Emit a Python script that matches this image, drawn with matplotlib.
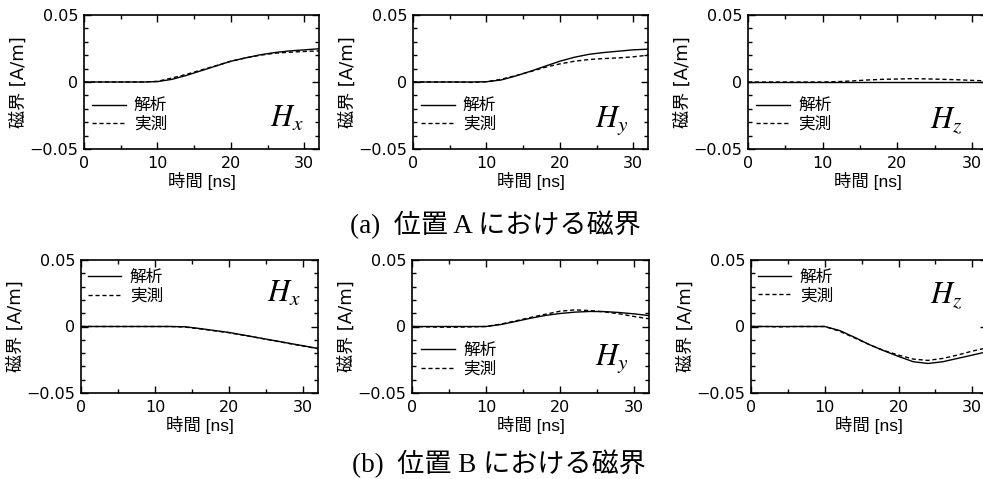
import matplotlib
matplotlib.use("Agg")
import matplotlib.pyplot as plt
from matplotlib.ticker import MultipleLocator, FuncFormatter

plt.rcParams['mathtext.fontset'] = 'stix'
plt.rcParams['font.family'] = ['DejaVu Sans', 'Noto Sans CJK JP']

t = [0, 2, 4, 6, 8, 10, 12, 14, 16, 18, 20, 22, 24, 26, 28, 30, 32]

a_hx_calc = [0, 0, 0, 0, 0, 0.0003, 0.002, 0.005, 0.0085, 0.012, 0.0155, 0.018, 0.0203, 0.022, 0.0232, 0.024, 0.0248]
a_hx_meas = [0, 0, 0, 0, 0, 0.0005, 0.003, 0.0058, 0.009, 0.0122, 0.0155, 0.018, 0.020, 0.0215, 0.0222, 0.0228, 0.0232]
a_hy_calc = [0, 0, 0, 0, 0, 0.0002, 0.0015, 0.0045, 0.008, 0.0118, 0.0155, 0.0185, 0.0207, 0.022, 0.023, 0.024, 0.0245]
a_hy_meas = [0, 0, 0, 0, -0.0003, 0.0002, 0.002, 0.0048, 0.0078, 0.011, 0.0135, 0.0155, 0.0168, 0.0175, 0.018, 0.0188, 0.020]
a_hz_calc = [0, 0, 0, 0, 0, 0, 0, 0, 0, 0, 0, 0, 0, 0, 0, 0, 0]
a_hz_meas = [0, 0, 0, 0, 0, 0, 0.0003, 0.0008, 0.0015, 0.002, 0.0022, 0.0025, 0.0023, 0.002, 0.0017, 0.0012, 0.0008]

b_hx_calc = [0, 0, 0, 0, 0, 0, 0, -0.0002, -0.0015, -0.003, -0.0045, -0.0065, -0.0085, -0.0105, -0.0125, -0.0145, -0.0165]
b_hx_meas = [0, 0, 0, 0, 0, 0, 0, -0.0004, -0.0017, -0.0032, -0.0047, -0.0066, -0.0086, -0.0106, -0.0127, -0.0147, -0.0167]
b_hy_calc = [0, 0, 0, 0, 0, 0, 0.0015, 0.0038, 0.0062, 0.0083, 0.0098, 0.0108, 0.0113, 0.0112, 0.0105, 0.0095, 0.0082]
b_hy_meas = [0, -0.0003, -0.0005, -0.0005, -0.0003, 0, 0.0018, 0.0042, 0.0068, 0.0092, 0.0115, 0.0125, 0.012, 0.011, 0.0095, 0.0075, 0.0058]
b_hz_calc = [0, 0, 0, 0, 0, 0, -0.003, -0.008, -0.0135, -0.0182, -0.0225, -0.0265, -0.0278, -0.0265, -0.024, -0.0215, -0.019]
b_hz_meas = [0, 0, -0.0003, 0, 0, 0, -0.0035, -0.0085, -0.0135, -0.018, -0.0215, -0.0245, -0.0255, -0.024, -0.0215, -0.0185, -0.016]

legend_labels = ['解析', '実測']
comp_labels = ['$H_x$', '$H_y$', '$H_z$']
xlabel = '時間 [ns]'
ylabel = '磁界 [A/m]'
captions = ['(a)  位置 A における磁界', '(b)  位置 B における磁界']

W, H = 983, 479
fig = plt.figure(figsize=(W / 100, H / 100), dpi=100)

def fx(px):
    return px / W

def fy(py):
    return 1 - py / H

# panel boxes in pixels: left, top, right, bottom
boxes = [
    (84, 15, 319, 149), (413, 15, 648, 149), (748, 15, 987, 149),
    (81, 260, 318, 393), (412, 260, 649, 393), (751, 260, 987, 393),
]
series = [
    (a_hx_calc, a_hx_meas), (a_hy_calc, a_hy_meas), (a_hz_calc, a_hz_meas),
    (b_hx_calc, b_hx_meas), (b_hy_calc, b_hy_meas), (b_hz_calc, b_hz_meas),
]
leg_pos = [(0.035, 0.385), (0.035, 0.385), (0.035, 0.385),
           (0.03, 0.93), (0.04, 0.385), (0.03, 0.935)]
h_pos = [(0.79, 0.164), (0.775, 0.164), (0.762, 0.157),
         (0.785, 0.684), (0.772, 0.21), (0.757, 0.677)]

def yfmt(v, pos):
    if abs(v) < 1e-9:
        return '0'
    s = f'{v:.2f}'
    return s.replace('-', '\u2212')

for i, (box, (calc, meas)) in enumerate(zip(boxes, series)):
    l, tp, r, b = box
    ax = fig.add_axes([fx(l), fy(b), fx(r - l), fy(tp) - fy(b)])
    ax.plot(t, calc, color='black', lw=1.0, ls='-', label=legend_labels[0])
    ax.plot(t, meas, color='black', lw=1.0, ls=(0, (3, 2)), label=legend_labels[1])
    ax.set_xlim(0, 32)
    ax.set_ylim(-0.05, 0.05)
    ax.xaxis.set_major_locator(MultipleLocator(10))
    ax.xaxis.set_minor_locator(MultipleLocator(5))
    ax.yaxis.set_major_locator(MultipleLocator(0.05))
    ax.yaxis.set_minor_locator(MultipleLocator(0.01))
    ax.yaxis.set_major_formatter(FuncFormatter(yfmt))
    ax.tick_params(which='both', direction='in', top=True, right=True,
                   labelsize=11.5, width=1.0)
    ax.tick_params(axis='y', pad=4)
    ax.tick_params(axis='x', pad=5)
    ax.tick_params(which='major', length=5)
    ax.tick_params(which='minor', length=3)
    for lab in ax.get_xticklabels() + ax.get_yticklabels():
        lab.set_family(['DejaVu Sans'])
    for sp in ax.spines.values():
        sp.set_linewidth(1.2)
    ax.set_xlabel(xlabel, fontsize=12.5, labelpad=1,
                  family=['Liberation Sans', 'Noto Sans CJK JP'])
    ax.set_ylabel(ylabel, fontsize=13, labelpad=1,
                  family=['DejaVu Sans', 'Noto Sans CJK JP'])
    ax.legend(loc='upper left', bbox_to_anchor=leg_pos[i], frameon=False,
              handlelength=2.0, handletextpad=0.5, labelspacing=0.1,
              borderpad=0, borderaxespad=0,
              prop={'size': 12, 'family': ['Noto Sans CJK JP']})
    ax.text(h_pos[i][0], h_pos[i][1], comp_labels[i % 3], transform=ax.transAxes,
            ha='left', va='baseline', fontsize=22)

fig.text(fx(350), fy(225), captions[0], ha='left', va='center', fontsize=19.5,
         family=['Liberation Serif', 'Noto Sans CJK JP'])
fig.text(fx(352), fy(464), captions[1], ha='left', va='center', fontsize=19.5,
         family=['Liberation Serif', 'Noto Sans CJK JP'])

fig.savefig('out.png', dpi=100)
